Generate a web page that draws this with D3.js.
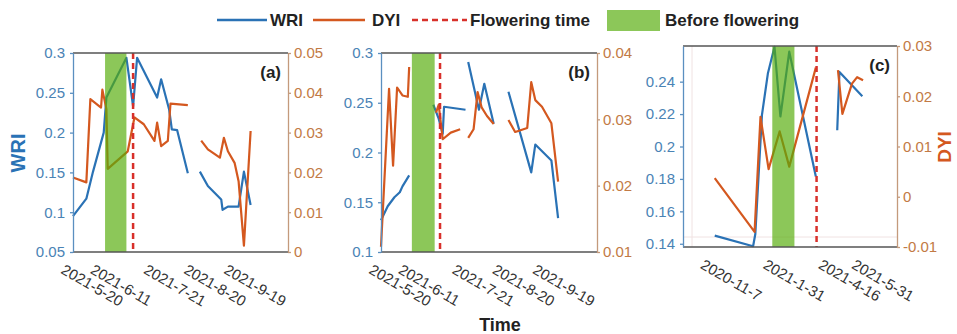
<!DOCTYPE html>
<html>
<head>
<meta charset="utf-8">
<script src="https://cdn.jsdelivr.net/npm/d3@7"></script>
<style>
  body { margin: 0; background: #fff; }
  svg { font-family: "Liberation Sans", Arial, sans-serif; }
</style>
</head>
<body>
<div id="chart"></div>
<script>
// WRI / DYI series per site, [date, value]; null value = gap in the line
const wriA = [["2021-05-21",0.095],["2021-05-31",0.117],["2021-06-05",0.151],["2021-06-13",0.200],["2021-06-15",0.244],["2021-06-30",0.294],["2021-07-05",0.233],["2021-07-08",0.294],["2021-07-23",0.244],["2021-07-26",0.267],["2021-08-01",0.229],["2021-08-03",0.204],["2021-08-07",0.203],["2021-08-15",0.149],["2021-08-20",null],["2021-08-24",0.151],["2021-08-30",0.133],["2021-09-09",0.116],["2021-09-10",0.103],["2021-09-14",0.107],["2021-09-22",0.107],["2021-09-26",0.151],["2021-10-01",0.109]];
const dyiA = [["2021-05-21",0.0187],["2021-05-31",0.0175],["2021-06-03",0.0384],["2021-06-11",0.0363],["2021-06-12",0.0408],["2021-06-15",0.0359],["2021-06-16",0.0209],["2021-07-01",0.0253],["2021-07-06",0.0338],["2021-07-13",0.0321],["2021-07-21",0.0279],["2021-07-23",0.0325],["2021-07-26",0.0266],["2021-07-31",0.0279],["2021-08-02",0.0373],["2021-08-15",0.0369],["2021-08-20",null],["2021-08-25",0.0280],["2021-08-30",0.0258],["2021-09-08",0.0237],["2021-09-11",0.0287],["2021-09-14",0.0253],["2021-09-19",0.0224],["2021-09-22",0.0178],["2021-09-26",0.0016],["2021-10-01",0.0304]];

const wriB = [["2021-05-21",0.132],["2021-05-26",0.146],["2021-05-31",0.155],["2021-06-04",0.160],["2021-06-06",0.166],["2021-06-11",0.177],["2021-06-20",null],["2021-06-29",0.248],["2021-07-03",0.234],["2021-07-06",0.219],["2021-07-07",0.246],["2021-07-23",0.243],["2021-07-24",null],["2021-07-25",0.291],["2021-08-02",0.243],["2021-08-06",0.269],["2021-08-13",0.229],["2021-08-18",null],["2021-08-24",0.261],["2021-09-10",0.180],["2021-09-13",0.208],["2021-09-25",0.192],["2021-09-30",0.134]];
const dyiB = [["2021-05-21",0.0108],["2021-05-27",0.0346],["2021-05-30",0.0230],["2021-06-02",0.0348],["2021-06-06",0.0336],["2021-06-10",0.0334],["2021-06-11",0.0379],["2021-06-20",null],["2021-07-01",0.0310],["2021-07-03",0.0322],["2021-07-06",0.0270],["2021-07-12",0.0280],["2021-07-19",0.0285],["2021-07-22",null],["2021-07-25",0.0272],["2021-07-29",0.0285],["2021-08-01",0.0341],["2021-08-04",0.0318],["2021-08-08",0.0305],["2021-08-13",0.0293],["2021-08-18",null],["2021-08-24",0.0299],["2021-08-29",0.0281],["2021-09-07",0.0287],["2021-09-10",0.0356],["2021-09-13",0.0329],["2021-09-18",0.0319],["2021-09-25",0.0294],["2021-09-30",0.0206]];

const wriC = [["2020-11-12",0.145],["2021-01-03",0.1385],["2021-01-06",0.146],["2021-01-15",0.2195],["2021-01-23",0.245],["2021-02-01",0.2615],["2021-02-09",0.2185],["2021-02-21",0.2585],["2021-03-29",0.1815],["2021-04-10",null],["2021-04-27",0.210],["2021-04-30",0.246],["2021-05-31",0.231]];
const dyiC = [["2020-11-12",0.0037],["2021-01-05",-0.0070],["2021-01-13",0.0159],["2021-01-24",0.0055],["2021-02-08",0.0130],["2021-02-21",0.0060],["2021-03-29",0.0257],["2021-04-10",null],["2021-04-28",0.0252],["2021-05-04",0.0165],["2021-05-17",0.0225],["2021-05-24",0.0238],["2021-06-01",0.0232]];

// before-flowering period and flowering date
const bandA = ["2021-06-14","2021-06-30"], flowerA = "2021-07-05";
const bandB = ["2021-06-13","2021-06-30"], flowerB = "2021-07-04";
const bandC = ["2021-01-29","2021-02-28"], flowerC = "2021-03-30";

// tick labels
const timeTicksAB = ["2021-5-20","2021-6-11","2021-7-21","2021-8-20","2021-9-19"];
const timeTicksC = ["2020-11-7","2021-1-31","2021-4-16","2021-5-31"];
const wriTicksA = [0.05,0.1,0.15,0.2,0.25,0.3], dyiTicksA = [0,0.01,0.02,0.03,0.04,0.05];
const wriTicksB = [0.1,0.15,0.2,0.25,0.3], dyiTicksB = [0.01,0.02,0.03,0.04];
const wriTicksC = [0.14,0.16,0.18,0.2,0.22,0.24], dyiTicksC = [-0.01,0,0.01,0.02,0.03];

const legendNames = ["WRI","DYI","Flowering time","Before flowering"];

const blue = "#2a72b5", orange = "#d4581f", red = "#d8302a", green = "#56ac0a";
const parseDate = d3.timeParse("%Y-%m-%d");
const fmt = d => String(+d.toFixed(3));

const svg = d3.select("#chart")
    .append("svg")
    .attr("width", 957)
    .attr("height", 334);

const panels = [
    {id: "(a)", left: 73, right: 288, top: 53, bottom: 252, xDomain: ["2021-05-21","2021-10-29"],
     wriDomain: [0.05,0.3], dyiDomain: [0,0.05], wri: wriA, dyi: dyiA, band: bandA, flower: flowerA,
     xTicks: timeTicksAB, wriTicks: wriTicksA, dyiTicks: dyiTicksA},
    {id: "(b)", left: 381, right: 597, top: 53, bottom: 252, xDomain: ["2021-05-21","2021-10-29"],
     wriDomain: [0.1,0.3], dyiDomain: [0.01,0.04], wri: wriB, dyi: dyiB, band: bandB, flower: flowerB,
     xTicks: timeTicksAB, wriTicks: wriTicksB, dyiTicks: dyiTicksB},
    {id: "(c)", left: 683, right: 897, top: 46, bottom: 247, xDomain: ["2020-09-30","2021-07-17"],
     wriDomain: [0.138,0.262], dyiDomain: [-0.01,0.03], wri: wriC, dyi: dyiC, band: bandC, flower: flowerC,
     xTicks: timeTicksC, wriTicks: wriTicksC, dyiTicks: dyiTicksC, faint: true}
];

function createPanel(p) {
    const x = d3.scaleTime().domain(p.xDomain.map(parseDate)).range([p.left, p.right]);
    const yL = d3.scaleLinear().domain(p.wriDomain).range([p.bottom, p.top]);
    const yR = d3.scaleLinear().domain(p.dyiDomain).range([p.bottom, p.top]);
    const g = svg.append("g");

    // faint leftover grid lines seen in panel (c)
    if (p.faint) {
        g.append("line").attr("x1", p.left + 9).attr("x2", p.left + 9).attr("y1", p.top).attr("y2", p.bottom)
            .attr("stroke", "#f0e2e2").attr("stroke-width", 1);
        g.append("line").attr("x1", p.left).attr("x2", p.right).attr("y1", p.bottom - 10).attr("y2", p.bottom - 10)
            .attr("stroke", "#f0e2e2").attr("stroke-width", 1);
    }

    const lineL = d3.line()
        .defined(d => d[1] !== null)
        .x(d => x(parseDate(d[0])))
        .y(d => yL(d[1]));
    const lineR = d3.line()
        .defined(d => d[1] !== null)
        .x(d => x(parseDate(d[0])))
        .y(d => yR(d[1]));

    g.append("path").datum(p.wri).attr("d", lineL)
        .attr("fill", "none").attr("stroke", blue).attr("stroke-width", 2.2).attr("stroke-linejoin", "round");
    g.append("path").datum(p.dyi).attr("d", lineR)
        .attr("fill", "none").attr("stroke", orange).attr("stroke-width", 2.2).attr("stroke-linejoin", "round");

    // before flowering band (semi transparent, over the lines)
    g.append("rect")
        .attr("x", x(parseDate(p.band[0])))
        .attr("y", p.top)
        .attr("width", x(parseDate(p.band[1])) - x(parseDate(p.band[0])))
        .attr("height", p.bottom - p.top)
        .attr("fill", green)
        .attr("opacity", 0.68);

    // flowering time
    g.append("line")
        .attr("x1", x(parseDate(p.flower))).attr("x2", x(parseDate(p.flower)))
        .attr("y1", p.top).attr("y2", p.bottom)
        .attr("stroke", red).attr("stroke-width", 2.5).attr("stroke-dasharray", "6,4");

    // box top / bottom
    g.append("line").attr("x1", p.left).attr("x2", p.right).attr("y1", p.top).attr("y2", p.top)
        .attr("stroke", "#555").attr("stroke-width", 1.3);
    g.append("line").attr("x1", p.left).attr("x2", p.right).attr("y1", p.bottom).attr("y2", p.bottom)
        .attr("stroke", "#555").attr("stroke-width", 1.3);

    // y axes
    const axL = g.append("g")
        .attr("transform", `translate(${p.left},0)`)
        .call(d3.axisLeft(yL).tickValues(p.wriTicks).tickFormat(fmt).tickSize(3).tickSizeOuter(0).tickPadding(5));
    axL.selectAll("path, line").attr("stroke", "#5a8fc0").attr("stroke-width", 1.3);
    axL.selectAll("text").attr("fill", "#4a83b5").style("font-size", "15px")
        .style("font-family", "'Liberation Sans', Arial, sans-serif");

    const axR = g.append("g")
        .attr("transform", `translate(${p.right},0)`)
        .call(d3.axisRight(yR).tickValues(p.dyiTicks).tickFormat(fmt).tickSize(3).tickSizeOuter(0).tickPadding(3));
    axR.selectAll("path, line").attr("stroke", "#c49a7c").attr("stroke-width", 1.3);
    axR.selectAll("text").attr("fill", "#c27a45").style("font-size", "15px")
        .style("font-family", "'Liberation Sans', Arial, sans-serif");

    // rotated time labels
    g.selectAll(".xlab")
        .data(p.xTicks)
        .enter()
        .append("text")
        .attr("class", "xlab")
        .attr("transform", d => `translate(${x(parseDate(d)) - 6},${p.bottom + 11}) rotate(30)`)
        .attr("dy", "0.75em")
        .style("font-size", "15px")
        .attr("fill", "#333")
        .text(d => d);

    // panel tag
    g.append("text")
        .attr("x", p.right - 7)
        .attr("y", p.top + 25)
        .attr("text-anchor", "end")
        .style("font-size", "17px")
        .style("font-weight", "bold")
        .attr("fill", "#222")
        .text(p.id);
}

panels.forEach(createPanel);

// axis titles
svg.append("text")
    .attr("transform", "translate(25,153) rotate(-90)")
    .attr("text-anchor", "middle")
    .style("font-size", "20px").style("font-weight", "bold")
    .attr("fill", blue)
    .text("WRI");
svg.append("text")
    .attr("transform", "translate(951,147) rotate(-90)")
    .attr("text-anchor", "middle")
    .style("font-size", "19px").style("font-weight", "bold")
    .attr("fill", orange)
    .text("DYI");
svg.append("text")
    .attr("x", 500)
    .attr("y", 331)
    .attr("text-anchor", "middle")
    .style("font-size", "18px").style("font-weight", "bold")
    .attr("fill", "#222")
    .text("Time");

// legend
const leg = svg.append("g").style("font-size", "17px").style("font-weight", "bold").attr("fill", "#222");
leg.append("line").attr("x1", 217).attr("x2", 267).attr("y1", 20).attr("y2", 20)
    .attr("stroke", blue).attr("stroke-width", 2.5);
leg.append("text").attr("x", 270).attr("y", 20).attr("dy", "0.35em").text(legendNames[0]);
leg.append("line").attr("x1", 313).attr("x2", 365).attr("y1", 20).attr("y2", 20)
    .attr("stroke", orange).attr("stroke-width", 2.5);
leg.append("text").attr("x", 372).attr("y", 20).attr("dy", "0.35em").text(legendNames[1]);
leg.append("line").attr("x1", 412).attr("x2", 467).attr("y1", 20).attr("y2", 20)
    .attr("stroke", red).attr("stroke-width", 2.5).attr("stroke-dasharray", "6,4");
leg.append("text").attr("x", 470).attr("y", 20).attr("dy", "0.35em").text(legendNames[2]);
leg.append("rect").attr("x", 607).attr("y", 10).attr("width", 53).attr("height", 21)
    .attr("fill", green).attr("opacity", 0.68);
leg.append("text").attr("x", 665).attr("y", 20).attr("dy", "0.35em").text(legendNames[3]);
</script>
</body>
</html>
